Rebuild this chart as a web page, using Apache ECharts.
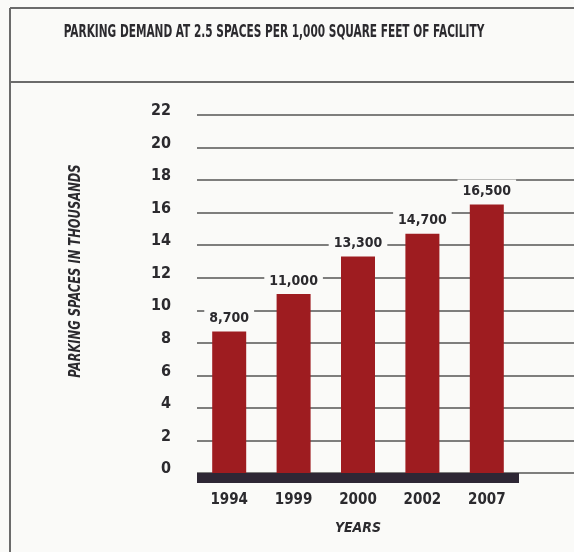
<!DOCTYPE html>
<html>
<head>
<meta charset="utf-8">
<script src="https://cdn.jsdelivr.net/npm/echarts@6/dist/echarts.min.js"></script>
<style>
  html, body { margin: 0; padding: 0; background: #fafaf8; }
  #chart { width: 574px; height: 552px; }
</style>
</head>
<body>
<div id="chart"></div>
<script>
// Parking demand, in thousands of spaces, by year
const years = ['1994', '1999', '2000', '2002', '2007'];
const spaces = [8.7, 11.0, 13.3, 14.7, 16.5];
const valueLabels = ['8,700', '11,000', '13,300', '14,700', '16,500'];
const yMin = 0, yMax = 22, yStep = 2;

const FONT = '"DejaVu Sans Condensed", "Liberation Sans Narrow", "Roboto", sans-serif';
const INK = '#2b2a2e';
const FRAME = '#6b6b6b';

const chart = echarts.init(document.getElementById('chart'));

chart.setOption({
  backgroundColor: '#fafaf8',
  animation: false,
  graphic: [
    // frame: top rule, header separator, left rule
    { type: 'line', shape: { x1: 10, y1: 8, x2: 574, y2: 8 }, style: { stroke: FRAME, lineWidth: 2 } },
    { type: 'line', shape: { x1: 10, y1: 82, x2: 574, y2: 82 }, style: { stroke: FRAME, lineWidth: 2 } },
    { type: 'line', shape: { x1: 10, y1: 8, x2: 10, y2: 552 }, style: { stroke: FRAME, lineWidth: 2 } },
    // chart heading, set in a narrow cut
    {
      type: 'text', x: 274, y: 33, scaleX: 0.69,
      style: {
        text: 'PARKING DEMAND AT 2.5 SPACES PER 1,000 SQUARE FEET OF FACILITY',
        fontFamily: FONT, fontSize: 17, fontWeight: 'bold', fill: INK,
        align: 'center', verticalAlign: 'middle'
      }
    },
    // vertical axis title
    {
      type: 'text', x: 76, y: 271, rotation: Math.PI / 2, scaleX: 0.8,
      style: {
        text: 'PARKING SPACES IN THOUSANDS',
        fontFamily: FONT, fontSize: 16, fontWeight: 'bold', fontStyle: 'italic', fill: INK,
        align: 'center', verticalAlign: 'middle'
      }
    }
  ],
  grid: [
    // gridline panel running to the right edge
    { left: 197, right: 0, top: 115, bottom: 79 },
    // bar panel
    { left: 197, right: 55, top: 115, bottom: 79 }
  ],
  xAxis: [
    { gridIndex: 0, type: 'category', data: years, show: false },
    {
      gridIndex: 1, type: 'category', data: years, position: 'bottom', offset: 5,
      axisLine: { show: true, onZero: false, lineStyle: { color: '#2e2735', width: 10, cap: 'butt' } },
      axisTick: { show: false },
      axisLabel: { margin: 15, fontFamily: FONT, fontSize: 15, fontWeight: 'bold', color: INK },
      name: 'YEARS', nameLocation: 'middle', nameGap: 43,
      nameTextStyle: { fontFamily: FONT, fontSize: 14, fontWeight: 'bold', fontStyle: 'italic', color: INK }
    }
  ],
  yAxis: [
    {
      gridIndex: 0, type: 'value', min: yMin, max: yMax, interval: yStep,
      axisLine: { show: false }, axisTick: { show: false },
      splitLine: { show: true, lineStyle: { color: '#555', width: 1.5 } },
      axisLabel: {
        margin: 26, fontFamily: FONT, fontSize: 16, fontWeight: 'bold', color: INK,
        verticalAlign: 'bottom', lineHeight: 8
      }
    },
    {
      gridIndex: 1, type: 'value', min: yMin, max: yMax, interval: yStep,
      show: false, splitLine: { show: false }
    }
  ],
  series: [{
    type: 'bar',
    xAxisIndex: 1, yAxisIndex: 1,
    data: spaces,
    barWidth: 34,
    itemStyle: { color: '#9e1c20' },
    label: {
      show: true, position: 'top', distance: 4,
      formatter: p => valueLabels[p.dataIndex],
      fontFamily: FONT, fontSize: 14, fontWeight: 'bold', color: INK,
      backgroundColor: '#fafaf8', padding: [5, 5, 2, 5]
    },
    z: 3
  }]
});
</script>
</body>
</html>
